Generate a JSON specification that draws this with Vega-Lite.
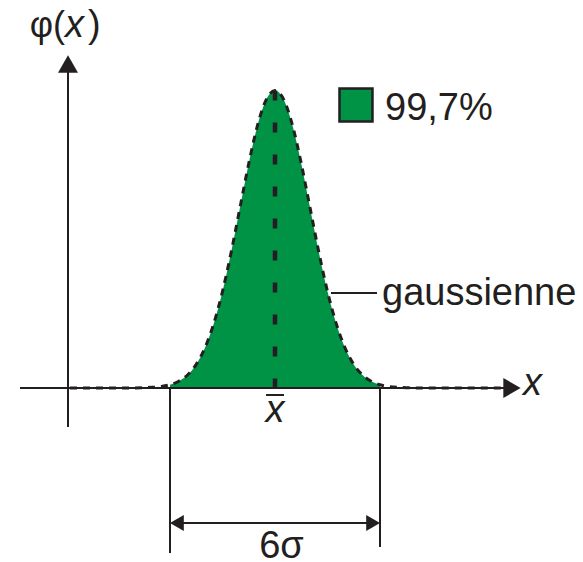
{
  "$schema": "https://vega.github.io/schema/vega-lite/v6.json",
  "width": 583,
  "height": 562,
  "padding": 0,
  "autosize": {"type": "none"},
  "background": "white",
  "config": {"view": {"stroke": null}},
  "datasets": {
    "curve": [
      {"u": -5.857, "v": 0}, {"u": -5, "v": 0}, {"u": -4.5, "v": 0},
      {"u": -4, "v": 0.0001}, {"u": -3.75, "v": 0.0004}, {"u": -3.5, "v": 0.0009},
      {"u": -3.25, "v": 0.002}, {"u": -3, "v": 0.0044}, {"u": -2.75, "v": 0.0091},
      {"u": -2.5, "v": 0.0175}, {"u": -2.25, "v": 0.0317}, {"u": -2, "v": 0.054},
      {"u": -1.75, "v": 0.0863}, {"u": -1.5, "v": 0.1295}, {"u": -1.25, "v": 0.1826},
      {"u": -1, "v": 0.242}, {"u": -0.75, "v": 0.3011}, {"u": -0.5, "v": 0.3521},
      {"u": -0.25, "v": 0.3867}, {"u": 0, "v": 0.3989}, {"u": 0.25, "v": 0.3867},
      {"u": 0.5, "v": 0.3521}, {"u": 0.75, "v": 0.3011}, {"u": 1, "v": 0.242},
      {"u": 1.25, "v": 0.1826}, {"u": 1.5, "v": 0.1295}, {"u": 1.75, "v": 0.0863},
      {"u": 2, "v": 0.054}, {"u": 2.25, "v": 0.0317}, {"u": 2.5, "v": 0.0175},
      {"u": 2.75, "v": 0.0091}, {"u": 3, "v": 0.0044}, {"u": 3.25, "v": 0.002},
      {"u": 3.5, "v": 0.0009}, {"u": 3.75, "v": 0.0004}, {"u": 4, "v": 0.0001},
      {"u": 4.5, "v": 0}, {"u": 5, "v": 0}, {"u": 6.5, "v": 0}
    ]
  },
  "encoding": {
    "x": {"field": "u", "type": "quantitative", "axis": null,
          "scale": {"domain": [-7.857, 8.8], "nice": false, "zero": false}},
    "y": {"field": "v", "type": "quantitative", "axis": null,
          "scale": {"domain": [-0.2333, 0.5203], "nice": false, "zero": false}}
  },
  "layer": [
    {
      "data": {"name": "curve"},
      "transform": [{"filter": "datum.u >= -3 && datum.u <= 3"}],
      "mark": {"type": "area", "color": "#009245", "interpolate": "monotone"},
      "encoding": {"y2": {"datum": 0}}
    },
    {
      "data": {"values": [
        {"u": -7.286, "u2": 6.6, "v": 0},
        {"u": -2.85, "u2": 2.85, "v": -0.181},
        {"u": 1.6, "u2": 2.914, "v": 0.1274},
        {"u": -0.257, "u2": 0.257, "v": -0.0094}
      ]},
      "mark": {"type": "rule", "color": "#231f20", "strokeWidth": 2},
      "encoding": {"x2": {"field": "u2"}}
    },
    {
      "data": {"values": [
        {"u": -5.914, "v": -0.0523, "v2": 0.4264},
        {"u": -3, "v": 0, "v2": -0.2213},
        {"u": 3, "v": 0, "v2": -0.2132}
      ]},
      "mark": {"type": "rule", "color": "#231f20", "strokeWidth": 2},
      "encoding": {"y2": {"field": "v2"}}
    },
    {
      "data": {"values": [{"u": 0, "v": 0.3989, "v2": 0}]},
      "mark": {"type": "rule", "color": "#231f20", "strokeWidth": 4.5, "strokeDash": [10, 22]},
      "encoding": {"y2": {"field": "v2"}}
    },
    {
      "data": {"name": "curve"},
      "mark": {"type": "line", "color": "#231f20", "strokeWidth": 3, "strokeDash": [7, 6], "interpolate": "monotone"},
      "encoding": {}
    },
    {
      "data": {"values": [{"u": -5.914, "v": 0.4345}]},
      "mark": {"type": "point", "shape": "triangle-up", "size": 400, "filled": true, "color": "#231f20", "opacity": 1}
    },
    {
      "data": {"values": [{"u": 6.771, "v": 0}]},
      "mark": {"type": "point", "shape": "triangle-right", "size": 400, "filled": true, "color": "#231f20", "opacity": 1}
    },
    {
      "data": {"values": [{"u": 2.803, "v": -0.181}]},
      "mark": {"type": "point", "shape": "triangle-right", "size": 256, "filled": true, "color": "#231f20", "opacity": 1}
    },
    {
      "data": {"values": [{"u": -2.803, "v": -0.181}]},
      "mark": {"type": "point", "shape": "triangle-left", "size": 256, "filled": true, "color": "#231f20", "opacity": 1}
    },
    {
      "data": {"values": [{"u": 2.314, "v": 0.3795}]},
      "mark": {"type": "point", "shape": "square", "size": 1089, "filled": true, "fill": "#009245", "stroke": "#231f20", "strokeWidth": 2.5, "opacity": 1}
    },
    {
      "data": {"values": [
        {"u": 3.143, "v": 0.3594, "t": "99,7%"},
        {"u": 3.057, "v": 0.1113, "t": "gaussienne"},
        {"u": -5.343, "v": 0.4707, "t": ")"}
      ]},
      "mark": {"type": "text", "align": "left", "baseline": "alphabetic", "font": "Liberation Sans", "fontSize": 38, "color": "#231f20"},
      "encoding": {"text": {"field": "t"}}
    },
    {
      "data": {"values": [{"u": -6.0, "v": 0.4707, "t": "φ("}]},
      "mark": {"type": "text", "align": "right", "baseline": "alphabetic", "font": "Liberation Sans", "fontSize": 36, "color": "#231f20"},
      "encoding": {"text": {"field": "t"}}
    },
    {
      "data": {"values": [{"u": 0.186, "v": -0.2275, "t": "6σ"}]},
      "mark": {"type": "text", "align": "center", "baseline": "alphabetic", "font": "Liberation Sans", "fontSize": 38, "color": "#231f20"},
      "encoding": {"text": {"field": "t"}}
    },
    {
      "data": {"values": [
        {"u": 7.086, "v": -0.0094, "t": "x"},
        {"u": -6.0, "v": 0.4707, "t": "x"}
      ]},
      "mark": {"type": "text", "align": "left", "baseline": "alphabetic", "font": "Liberation Sans", "fontStyle": "italic", "fontSize": 38, "color": "#231f20"},
      "encoding": {"text": {"field": "t"}}
    },
    {
      "data": {"values": [{"u": 0, "v": -0.0456, "t": "x"}]},
      "mark": {"type": "text", "align": "center", "baseline": "alphabetic", "font": "Liberation Sans", "fontStyle": "italic", "fontSize": 38, "color": "#231f20"},
      "encoding": {"text": {"field": "t"}}
    }
  ]
}
